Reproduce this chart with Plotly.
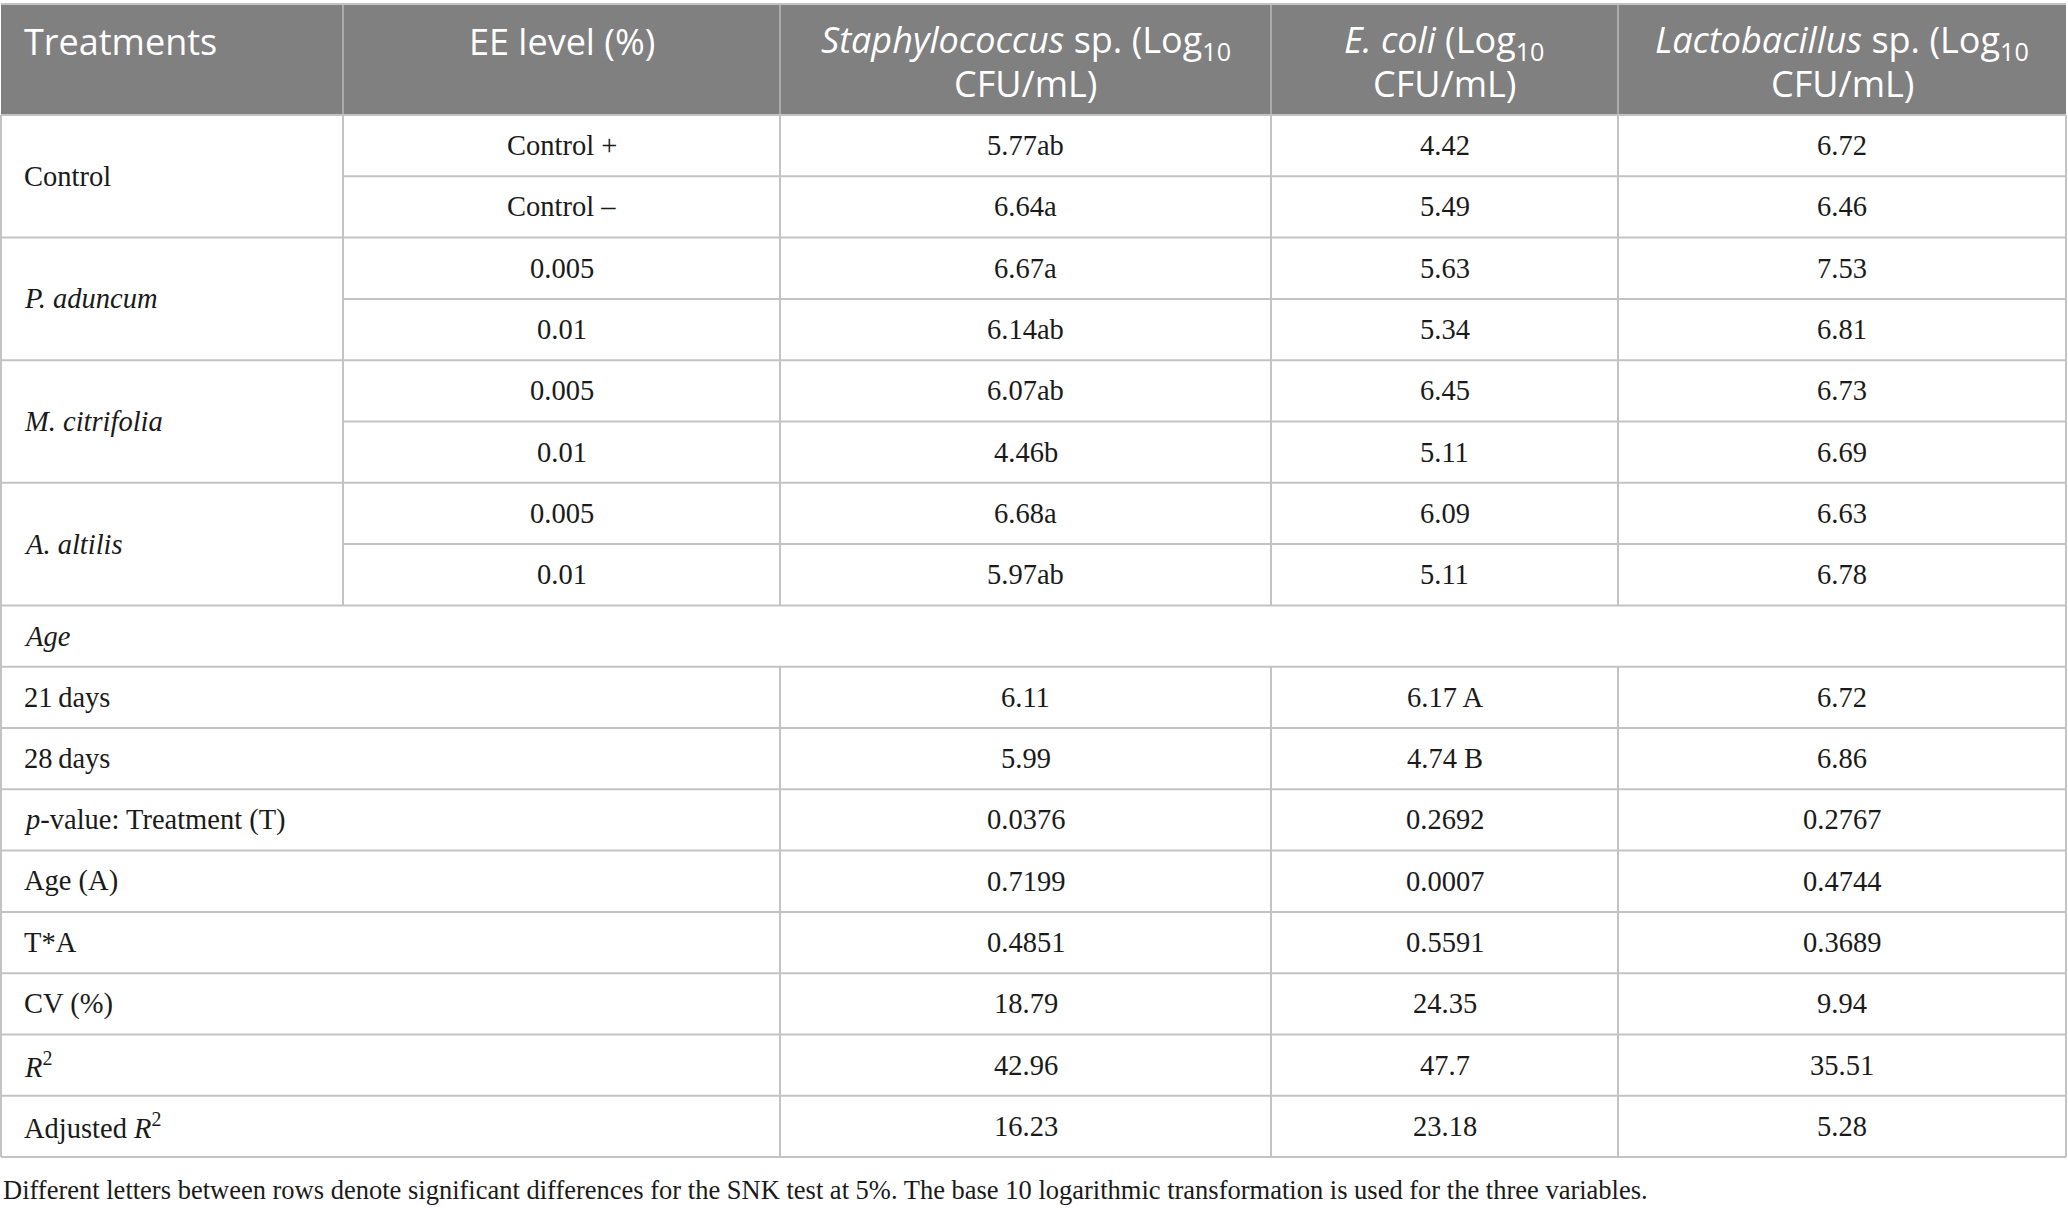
import plotly.graph_objects as go

# ---------------- data ----------------
header_labels = [
    "Treatments",
    "EE level (%)",
    ["<i>Staphylococcus</i> sp. (Log<sub>10</sub>", "CFU/mL)"],
    ["<i>E. coli</i> (Log<sub>10</sub>", "CFU/mL)"],
    ["<i>Lactobacillus</i> sp. (Log<sub>10</sub>", "CFU/mL)"],
]
treatments = ["Control", "<i>P. aduncum</i>", "<i>M. citrifolia</i>", "<i>A. altilis</i>"]
ee_levels = ["Control +", "Control \u2013", "0.005", "0.01", "0.005", "0.01", "0.005", "0.01"]
staph = ["5.77ab", "6.64a", "6.67a", "6.14ab", "6.07ab", "4.46b", "6.68a", "5.97ab"]
ecoli = ["4.42", "5.49", "5.63", "5.34", "6.45", "5.11", "6.09", "5.11"]
lacto = ["6.72", "6.46", "7.53", "6.81", "6.73", "6.69", "6.63", "6.78"]

section_label = "<i>Age</i>"
stat_labels = ["21\u2009days", "28\u2009days", "<i>p</i>-value: Treatment (T)", "Age (A)",
               "T*A", "CV (%)", "<i>R</i><sup>2</sup>", "Adjusted <i>R</i><sup>2</sup>"]
stat_staph = ["6.11", "5.99", "0.0376", "0.7199", "0.4851", "18.79", "42.96", "16.23"]
stat_ecoli = ["6.17 A", "4.74 B", "0.2692", "0.0007", "0.5591", "24.35", "47.7", "23.18"]
stat_lacto = ["6.72", "6.86", "0.2767", "0.4744", "0.3689", "9.94", "35.51", "5.28"]

footnote = ("Different letters between rows denote significant differences for the SNK test at 5%. "
            "The base 10 logarithmic transformation is used for the three variables.")

# ---------------- layout geometry ----------------
W, H = 2068, 1211
X_EDGES = [1, 343, 780, 1271, 1618, 2066]
HEAD_TOP, HEAD_BOT = 4, 115
ROW_H = 61.3
HEAD_LINE_Y = [41, 83]
PAD_X = 21

LINE_COL = "#c3c3c3"
HEAD_BG = "#7f807f"
HEAD_SEP = "#a9aaa9"
TXT = "#1a1a1a"
SERIF = "Liberation Serif"
SANS = "Open Sans"
BODY_SIZE = 28.5
HEAD_SIZE = 36
FOOT_SIZE = 26.5

def row_top(i):
    return HEAD_BOT + i * ROW_H

def row_mid(i):
    return HEAD_BOT + (i + 0.5) * ROW_H

def col_mid(c):
    return (X_EDGES[c] + X_EDGES[c + 1]) / 2

shapes = []
ann = []

def hline(x0, x1, y, color=LINE_COL, w=2):
    shapes.append(dict(type="line", xref="x", yref="y", x0=x0, x1=x1, y0=y, y1=y,
                       line=dict(color=color, width=w), layer="above"))

def vline(x, y0, y1, color=LINE_COL, w=2):
    shapes.append(dict(type="line", xref="x", yref="y", x0=x, x1=x, y0=y0, y1=y1,
                       line=dict(color=color, width=w), layer="above"))

def text(x, y, s, xanchor="center", size=BODY_SIZE, family=SERIF, color=TXT):
    ann.append(dict(x=x, y=y, xref="x", yref="y", text=s, showarrow=False,
                    xanchor=xanchor, yanchor="middle",
                    font=dict(family=family, size=size, color=color)))

# header background
shapes.append(dict(type="rect", xref="x", yref="y", x0=X_EDGES[0], x1=X_EDGES[-1],
                   y0=HEAD_TOP, y1=HEAD_BOT, fillcolor=HEAD_BG, line=dict(width=0), layer="below"))
for x in X_EDGES[1:-1]:
    vline(x, HEAD_TOP, HEAD_BOT, color=HEAD_SEP)
hline(X_EDGES[0], X_EDGES[-1], HEAD_TOP, color=LINE_COL)

# header text
for c, lab in enumerate(header_labels):
    lines = lab if isinstance(lab, list) else [lab]
    for k, ln in enumerate(lines):
        if c == 0:
            text(X_EDGES[0] + PAD_X, HEAD_LINE_Y[k], ln, xanchor="left", size=HEAD_SIZE,
                 family=SANS, color="white")
        else:
            text(col_mid(c), HEAD_LINE_Y[k], ln, size=HEAD_SIZE, family=SANS, color="white")

n_treat_rows = len(ee_levels)
per_group = n_treat_rows // len(treatments)

# treatment block
for g, name in enumerate(treatments):
    r0 = g * per_group
    text(X_EDGES[0] + PAD_X, row_top(r0) + per_group * ROW_H / 2, name, xanchor="left")
    hline(X_EDGES[0], X_EDGES[-1], row_top(r0))
    for k in range(1, per_group):
        hline(X_EDGES[1], X_EDGES[-1], row_top(r0 + k))

for i in range(n_treat_rows):
    text(col_mid(1), row_mid(i), ee_levels[i])
    text(col_mid(2), row_mid(i), staph[i])
    text(col_mid(3), row_mid(i), ecoli[i])
    text(col_mid(4), row_mid(i), lacto[i])

for x in X_EDGES[1:-1]:
    vline(x, row_top(0), row_top(n_treat_rows))

# section row
sec = n_treat_rows
hline(X_EDGES[0], X_EDGES[-1], row_top(sec))
text(X_EDGES[0] + PAD_X, row_mid(sec), section_label, xanchor="left")

# statistics block
s0 = sec + 1
for j, lab in enumerate(stat_labels):
    r = s0 + j
    hline(X_EDGES[0], X_EDGES[-1], row_top(r))
    text(X_EDGES[0] + PAD_X, row_mid(r), lab, xanchor="left")
    text(col_mid(2), row_mid(r), stat_staph[j])
    text(col_mid(3), row_mid(r), stat_ecoli[j])
    text(col_mid(4), row_mid(r), stat_lacto[j])
last = s0 + len(stat_labels)
hline(X_EDGES[0], X_EDGES[-1], row_top(last))
for x in X_EDGES[2:-1]:
    vline(x, row_top(s0), row_top(last))

# outer borders
vline(X_EDGES[0], HEAD_BOT, row_top(last))
vline(X_EDGES[-1], HEAD_BOT, row_top(last))

# footnote
text(X_EDGES[0], row_top(last) + 33, footnote, xanchor="left", size=FOOT_SIZE)

fig = go.Figure()
fig.update_layout(
    width=W, height=H,
    margin=dict(l=0, r=0, t=0, b=0),
    paper_bgcolor="white", plot_bgcolor="white",
    xaxis=dict(range=[0, W], visible=False, fixedrange=True),
    yaxis=dict(range=[H, 0], visible=False, fixedrange=True),
    shapes=shapes, annotations=ann, showlegend=False,
)
fig.write_html("out.html", config={"displayModeBar": False},
               post_script="document.body.style.margin='0';document.body.style.overflow='hidden';")
